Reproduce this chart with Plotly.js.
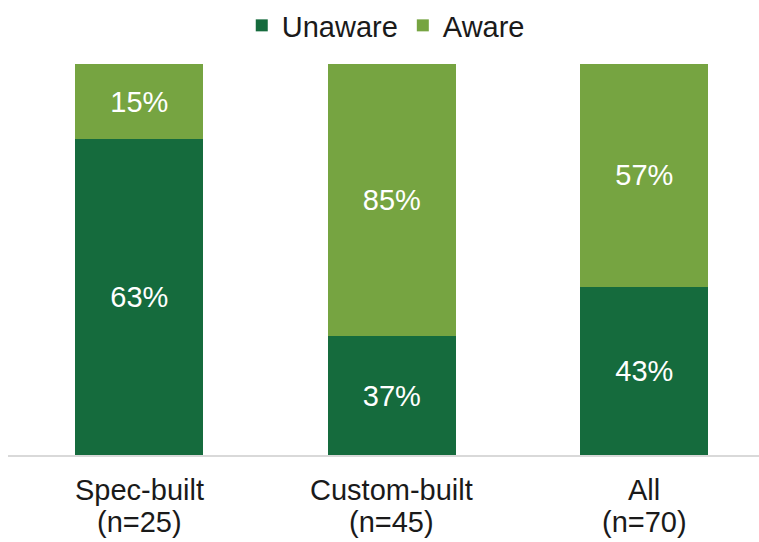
<!DOCTYPE html>
<html>
<head>
<meta charset="utf-8">
<script src="https://cdn.plot.ly/plotly-3.0.1.min.js"></script>
<style>html,body{margin:0;padding:0;background:#fff;}#chart{width:759px;height:542px;}</style>
</head>
<body>
<div id="chart"></div>
<script>
const categories = ["Spec-built", "Custom-built", "All"];
const sampleSizes = ["(n=25)", "(n=45)", "(n=70)"];
const seriesNames = ["Unaware", "Aware"];
const unaware = [63, 37, 43];
const aware = [15, 85, 57];
const colors = ["#156b3d", "#76a441"];

const FONT = "Liberation Sans, Arial, sans-serif";
const series = [unaware, aware];
const traces = series.map((vals, i) => ({
  type: "bar",
  name: seriesNames[i],
  x: categories,
  y: vals,
  text: vals.map(v => v + "%"),
  textposition: "inside",
  insidetextanchor: "middle",
  textangle: 0,
  textfont: {color: "#ffffff", size: 29, family: FONT},
  constraintext: "none",
  marker: {color: colors[i]},
  hoverinfo: "none"
}));

const annotations = [];
categories.forEach((c, i) => {
  annotations.push({x: c, xref: "x", y: 0, yref: "paper", yanchor: "middle", xanchor: "center",
    yshift: -35, text: c, showarrow: false, font: {size: 29, color: "#1a1a1a", family: FONT}});
  annotations.push({x: c, xref: "x", y: 0, yref: "paper", yanchor: "middle", xanchor: "center",
    yshift: -67, text: sampleSizes[i], showarrow: false, font: {size: 29, color: "#1a1a1a", family: FONT}});
});

const layout = {
  width: 759, height: 542,
  margin: {l: 8, r: 0, t: 64, b: 87, autoexpand: false},
  barmode: "stack",
  barnorm: "percent",
  bargap: 0.493,
  paper_bgcolor: "#ffffff",
  plot_bgcolor: "#ffffff",
  font: {family: FONT, color: "#1a1a1a"},
  showlegend: true,
  legend: {
    orientation: "h", x: 0.503, xanchor: "center", y: 1.0, yref: "container", yanchor: "top",
    font: {size: 29, color: "#1a1a1a", family: FONT},
    itemwidth: 30, traceorder: "normal"
  },
  xaxis: {
    range: [-0.52, 2.454],
    showgrid: false, zeroline: false,
    showline: true, linecolor: "#d9d9d9", linewidth: 1.5,
    ticks: "", showticklabels: false,
    fixedrange: true
  },
  yaxis: {
    range: [0, 100], visible: false, showgrid: false, zeroline: false, fixedrange: true
  },
  annotations: annotations
};

Plotly.newPlot("chart", traces, layout, {displayModeBar: false, staticPlot: true});
</script>
</body>
</html>
